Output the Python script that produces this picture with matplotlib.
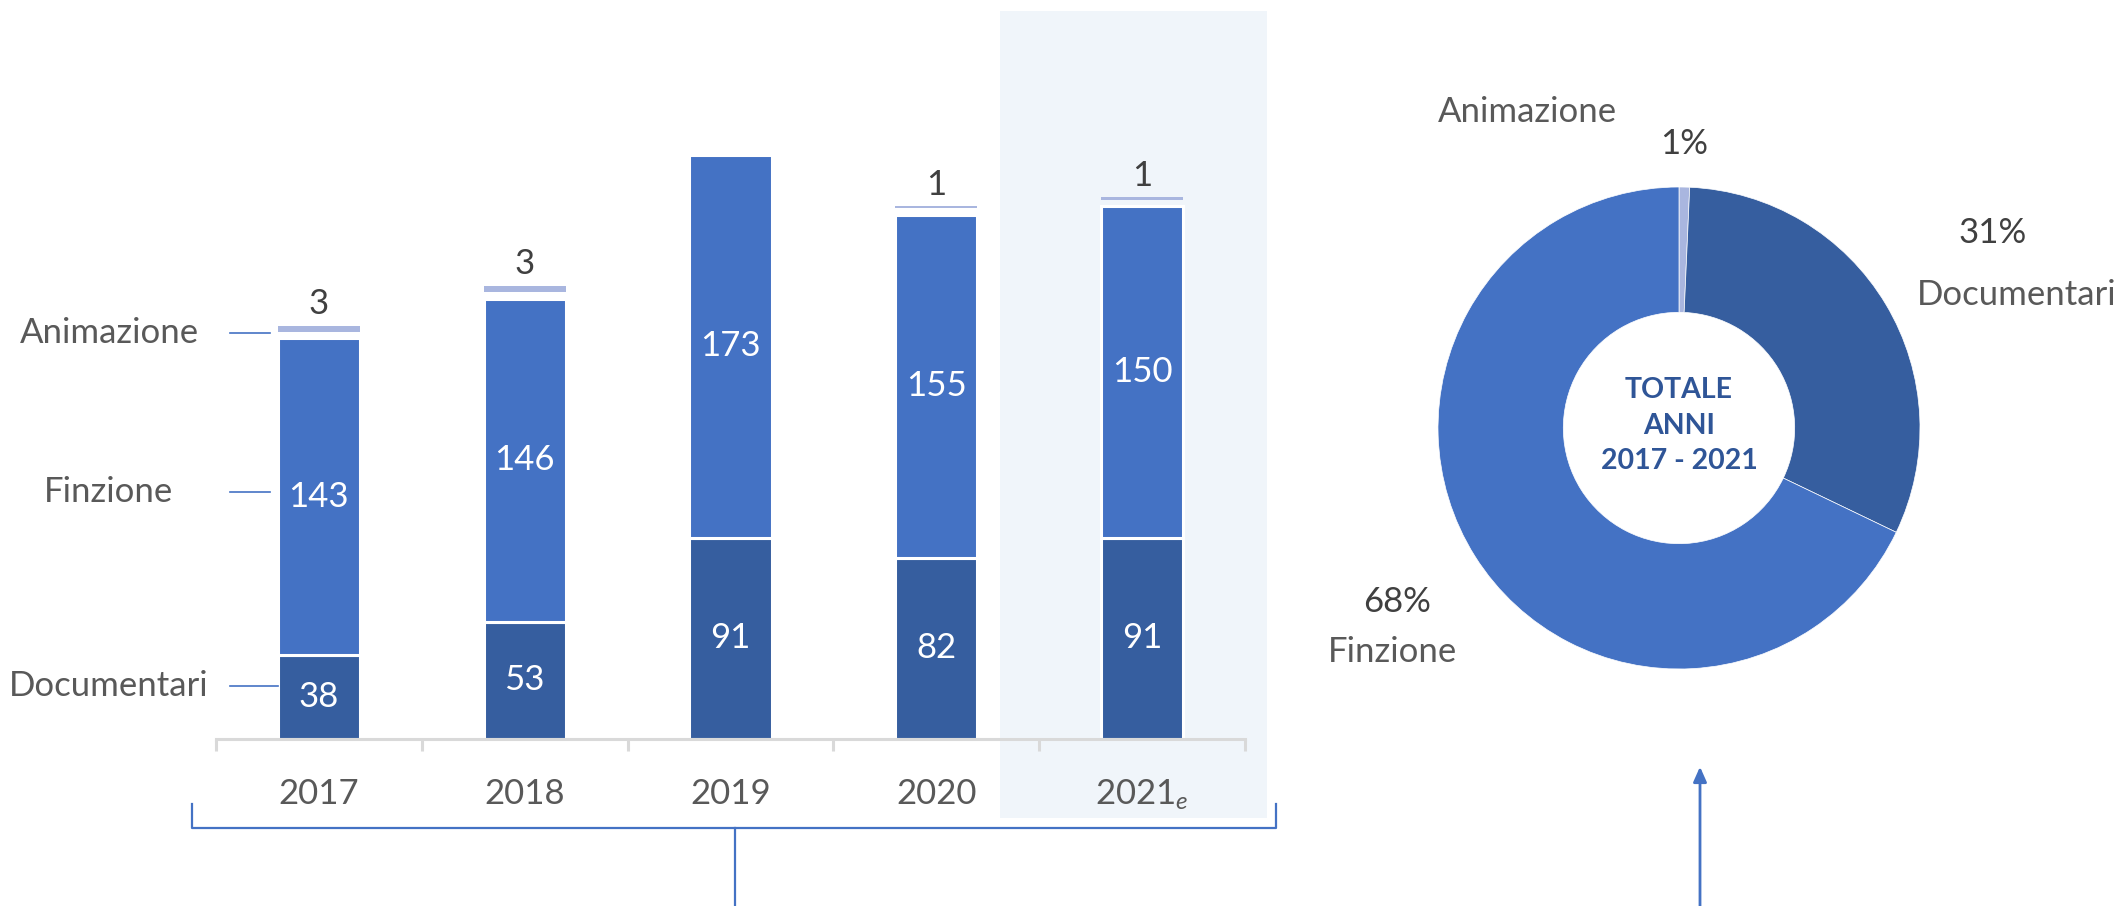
import numpy as np
import matplotlib
matplotlib.use("Agg")
import matplotlib.pyplot as plt

plt.rcParams['font.family'] = ['Lato', 'DejaVu Sans']
plt.rcParams['mathtext.fontset'] = 'custom'
plt.rcParams['mathtext.rm'] = 'Lato'
plt.rcParams['mathtext.it'] = 'Lato:italic'

# dati
anni = ['2017', '2018', '2019', '2020', '2021$_{\\mathit{e}}$']
documentari = [38, 53, 91, 82, 91]
finzione = [143, 146, 173, 155, 150]
animazione = [3, 3, 0, 1, 1]
categorie = ['Animazione', 'Documentari', 'Finzione']

c_doc = '#365E9F'
c_fin = '#4472C4'
c_ani = '#A9B6DF'
c_txt = '#595959'
c_lab = '#404040'
fs = 25

W, H = 2125, 906
fig = plt.figure(figsize=(W / 100, H / 100), dpi=100)

# overlay in pixel per parentesi e freccia
ov = fig.add_axes([0, 0, 1, 1])
ov.set_xlim(0, W)
ov.set_ylim(H, 0)
ov.axis('off')
ov.patch.set_alpha(0)

# grafico a barre
ax = fig.add_axes([216 / W, (H - 739) / H, 1029 / W, 728 / H])
ax.patch.set_alpha(0)
x = np.arange(len(anni))
bw = 0.4
doc = np.array(documentari)
fin = np.array(finzione)
ani = np.array(animazione)

ax.axvspan(3.31, 4.607, ymin=-0.1085, ymax=1, color='#F0F5FA', zorder=0, clip_on=False, lw=0)

b1 = ax.bar(x, doc, bw, color=c_doc, edgecolor='white', linewidth=2.2, zorder=2)
b2 = ax.bar(x, fin, bw, bottom=doc, color=c_fin, edgecolor='white', linewidth=2.2, zorder=2)
gap = 2.8
b3 = ax.bar(x, ani, bw, bottom=doc + fin + gap, color=c_ani, linewidth=0, zorder=2)

ax.bar_label(b1, labels=[str(v) for v in documentari], label_type='center',
             color='white', fontsize=fs)
ax.bar_label(b2, labels=[str(v) for v in finzione], label_type='center',
             color='white', fontsize=fs)
for i, v in enumerate(animazione):
    if v > 0:
        ax.annotate(str(v), (x[i], doc[i] + fin[i] + gap + v), xytext=(0, 4),
                    textcoords='offset points', ha='center', va='bottom',
                    fontsize=fs, color=c_lab)

ax.set_xlim(-0.5, len(anni) - 0.5)
ax.set_ylim(0, 329)
for s in ['top', 'right', 'left']:
    ax.spines[s].set_visible(False)
ax.spines['bottom'].set_color('#D9D9D9')
ax.spines['bottom'].set_linewidth(2.2)
ax.set_yticks([])
ax.set_xticks(x)
ax.set_xticklabels(anni, fontsize=fs, color=c_txt)
ax.tick_params(axis='x', which='major', length=0, pad=28)
ax.set_xticks(np.arange(-0.5, len(anni)), minor=True)
ax.tick_params(axis='x', which='minor', length=8.6, width=2.2, color='#D9D9D9')

# etichette a sinistra
leg = [('Animazione', doc[0] + fin[0] + gap + ani[0] / 2 - 2, -0.24),
       ('Finzione', doc[0] + fin[0] / 2 + 2, -0.24),
       ('Documentari', doc[0] / 2 + 5, -0.2)]
for name, yv, xe in leg:
    ax.text(-1.02, yv, name, ha='center', va='center', fontsize=fs, color=c_txt, clip_on=False)
    ax.plot([-0.43, xe], [yv, yv], color=c_fin, lw=1.2, clip_on=False)

# parentesi sotto le barre e freccia
ov.plot([192, 192, 1276, 1276], [804, 828, 828, 804], color=c_fin, lw=1.6)
ov.plot([735, 735], [828, H + 5], color=c_fin, lw=1.6)
ov.annotate('', xy=(1700, 764), xytext=(1700, H + 5),
            arrowprops=dict(arrowstyle='-|>,head_width=0.4,head_length=0.9',
                            color=c_fin, lw=2))

# ciambella
tot = [sum(animazione), sum(documentari), sum(finzione)]
cx, cy, r = 1679, 428, 241
ax2 = fig.add_axes([(cx - r) / W, (H - cy - r) / H, 2 * r / W, 2 * r / H])
ax2.pie(tot, colors=[c_ani, c_doc, c_fin], startangle=90, counterclock=False,
        radius=1, wedgeprops=dict(width=0.52, edgecolor='white', linewidth=0.5))
ax2.set_xlim(-1, 1)
ax2.set_ylim(-1, 1)
ax2.set_aspect('equal')
ax2.axis('off')

perc = [f'{round(100 * t / sum(tot))}%' for t in tot]
ax2.text(-0.63, 1.31, categorie[0], ha='center', va='center', fontsize=fs, color=c_txt)
ax2.text(0.02, 1.18, perc[0], ha='center', va='center', fontsize=fs, color=c_lab)
ax2.text(1.30, 0.81, perc[1], ha='center', va='center', fontsize=fs, color=c_lab)
ax2.text(1.40, 0.55, categorie[1], ha='center', va='center', fontsize=fs, color=c_txt)
ax2.text(-1.17, -0.72, perc[2], ha='center', va='center', fontsize=fs, color=c_lab)
ax2.text(-1.19, -0.93, categorie[2], ha='center', va='center', fontsize=fs, color=c_txt)
ax2.text(0, 0.01, 'TOTALE\nANNI\n2017 - 2021', ha='center', va='center', fontsize=20.5,
         fontweight='bold', color='#2F5597', linespacing=1.45)

fig.savefig('out.png', dpi=100)
